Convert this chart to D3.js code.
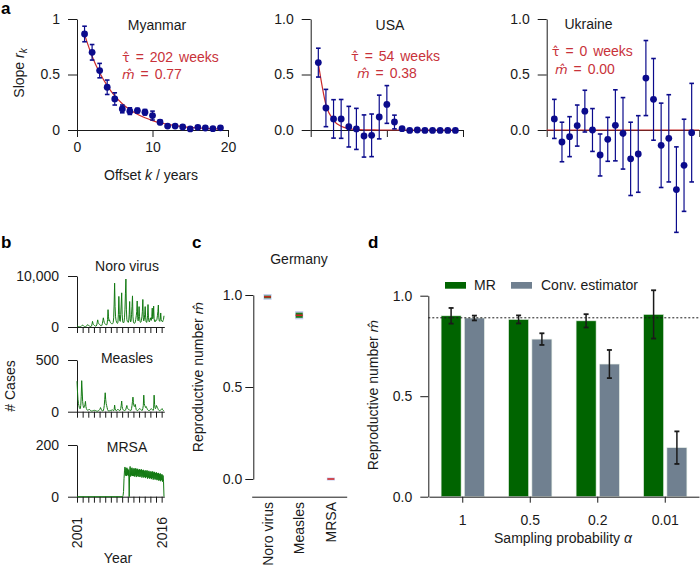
<!DOCTYPE html>
<html><head><meta charset="utf-8">
<script src="https://cdn.jsdelivr.net/npm/d3@7"></script>
<style>
body{margin:0;background:#fff;}
svg{font-family:"Liberation Sans",Arial,Helvetica,sans-serif;}
</style></head>
<body><svg id="chart" width="700" height="569"></svg>
<script>
// ---------------- DATA ----------------
// Panel a
const panelAOffsets = [1,2,3,4,5,6,7,8,9,10,11,12,13,14,15,16,17,18,19];
const ukraineFitOffsets = [0,1,2,3,4,5,6,7,8,9,10,11,12,13,14,15,16,17,18,19,20];
const axisAOffsetTicks = [0,10,20];
const axisASlopeTicks = [0,0.5,1];

const myanmarSlope = [0.865,0.70,0.535,0.385,0.28,0.19,0.17,0.175,0.16,0.13,0.07,0.035,0.035,0.027,0.01,0.024,0.018,0.012,0.02];
const myanmarErr   = [0.07,0.07,0.065,0.065,0.055,0.035,0.03,0.02,0.025,0.04,0.02,0.012,0.01,0.01,0.008,0.01,0.008,0.008,0.01];
const myanmarFit   = [0.86,0.665,0.515,0.40,0.307,0.237,0.183,0.142,0.11,0.085,0.065,0.05,0.039,0.03,0.023,0.018,0.014,0.011,0.008];

const usaSlope = [0.607,0.198,0.10,0.10,0.03,0.01,-0.054,-0.048,0.117,0.23,0.072,0.012,-0.004,0,-0.004,-0.004,-0.004,-0.004,-0.004];
const usaErr   = [0.13,0.168,0.173,0.175,0.183,0.185,0.19,0.192,0.197,0.17,0.062,0.008,0,0,0,0,0,0,0];
const usaFit   = [0.60,0.228,0.087,0.033,0.0125,0.005,0.002,0.001,0,0,0,0,0,0,0,0,0,0,0];

const ukraineSlope = [0.10,-0.108,-0.06,0.04,0.17,0.0,-0.225,-0.084,0.042,-0.03,-0.26,-0.216,0.468,0.276,-0.138,-0.075,-0.537,-0.318,-0.024];
const ukraineErr   = [0.176,0.178,0.18,0.185,0.188,0.193,0.189,0.198,0.32,0.322,0.33,0.345,0.338,0.368,0.38,0.393,0.385,0.415,0.444];
const ukraineFit   = [0,0,0,0,0,0,0,0,0,0,0,0,0,0,0,0,0,0,0,0,0];

const countryNames = ["Myanmar","USA","Ukraine"];
const tauWeeks = ["202","54","0"];
const mHatValues = ["0.77","0.38","0.00"];

// Panel b (weekly case counts, sampled monthly)
const caseYearTicks = [2001,2002,2003,2004,2005,2006,2007,2008,2009,2010,2011,2012,2013,2014,2015,2016];
const caseYearLabels = [2001,2016];
const noroStart = 2001;
const noroCases = [
 250,200,150,100,80,60,50,60,80,150,250,300,
 350,300,200,120,80,60,60,80,150,300,450,400,
 350,300,200,150,100,80,100,200,600,1100,700,500,
 400,300,250,200,150,200,400,900,1400,900,700,600,
 500,400,300,250,250,350,700,1200,1800,1300,900,700,
 600,500,400,400,600,1500,3400,2000,1200,1400,1100,900,
 800,700,600,600,700,900,1800,4500,8600,4000,2000,1300,
 1000,800,700,900,2500,6000,2500,1200,1100,2500,4500,6700,
 2500,1200,900,800,1000,1800,3500,6500,9400,3500,1500,1100,
 1000,900,1200,2500,5000,1600,1000,1200,2500,4000,6100,2000,
 1000,800,700,800,1000,1500,2200,3000,5100,1800,1200,2000,
 4000,2000,1100,900,1000,1300,2000,3000,5400,1800,1200,1500,
 2500,4000,1800,1000,900,1200,2200,4400,1800,1100,1000,1300,
 1800,1400,1300,2000,3700,1600,2000,4100,1600,1100,1000,1200,
 1400,1300,1500,2200,3000,4300,1800,1200,1100,1500,2750,1400,
 1200,1100,1000,1300,1500,2200];
const measlesStart = 2001;
const measlesCases = [
 295,200,120,80,60,40,30,30,60,150,300,200,
 100,60,40,40,50,70,100,50,30,20,15,12,
 15,20,25,20,15,10,8,6,5,8,10,12,
 10,12,15,12,10,8,5,5,5,8,10,15,
 20,25,40,30,20,10,8,8,10,30,60,120,
 183,120,80,60,40,20,10,8,6,8,10,12,
 10,12,15,20,15,10,10,20,64,30,15,10,
 10,15,20,25,20,15,10,10,15,30,60,103,
 50,30,20,15,15,10,10,15,25,45,60,40,
 30,25,20,20,15,10,10,15,30,60,100,141,
 90,60,50,60,70,40,20,15,10,10,15,20,
 25,30,30,25,20,15,10,15,30,60,160,80,
 60,50,40,50,40,30,20,15,12,10,12,15,
 20,25,30,25,20,15,12,30,160,70,40,30,
 40,60,50,40,30,20,15,10,10,12,15,20,
 25,30,20,15,10,8];
const mrsaStart = 2009;
const mrsaCases = [
 0,0,5,20,70,100,115,82,110,80,112,84,
 108,80,104,0,100,117,78,110,82,112,80,106,
 80,110,78,108,82,110,76,106,80,108,78,104,
 78,106,76,104,80,106,74,102,78,104,74,100,
 76,102,72,100,76,102,70,98,74,100,70,96,
 72,98,68,96,72,98,66,94,70,96,66,92,
 68,94,64,90,66,92,62,88,64,90,60,86,
 64,86,58,82,60,0];
const caseTitles = ["Noro virus","Measles","MRSA"];
const caseMax = [10000,500,200];

// Panel c
const germanyDiseases = ["Noro virus","Measles","MRSA"];
const germanyMedian = [0.99,0.89,0.0];
const germanyLow    = [0.982,0.876,0.0];
const germanyHigh   = [0.997,0.904,0.0];
const reproTicks = [0,0.5,1];

// Panel d
const samplingLabels = ["1","0.5","0.2","0.01"];
const estimatorNames = ["MR","Conv. estimator"];
const mrValues   = [0.90,0.882,0.875,0.907];
const mrErr      = [0.039,0.02,0.033,0.12];
const convValues = [0.889,0.784,0.66,0.244];
const convErr    = [0.012,0.029,0.07,0.081];
const trueM = 0.89;

// ---------------- DRAW ----------------
const svg = d3.select("#chart");
const INK = "#1a1a1a";
const NAVY = "#0b0b8c";
const RED = "#cc2b2b";
const REDTXT = "#c8323a";
const GREEN = "#006400";
const SLATE = "#708090";

function styleAxis(g){
  g.attr("font-family", null).attr("font-size", 14);
  g.selectAll(".domain, .tick line").attr("stroke", INK).attr("stroke-width", 1);
  g.selectAll(".tick text").attr("fill", INK);
  return g;
}
function label(txt, x, y, opts={}){
  const t = svg.append("text").attr("x", x).attr("y", y).attr("font-size", opts.size||14)
    .attr("fill", opts.fill||INK).attr("text-anchor", opts.anchor||"start");
  if (opts.weight) t.attr("font-weight", opts.weight);
  t.text(txt);
  return t;
}
function hatTspan(t, base, italic, size){
  const s = t.append("tspan").attr("font-family","DejaVu Sans").attr("font-size",size||13).text(base + "\u0302");
  if (italic) s.attr("font-style","italic");
  return s;
}

// Panel labels
label("a", 1, 14, {size:17, weight:"bold", fill:"#000"});
label("b", 1, 248, {size:17, weight:"bold", fill:"#000"});
label("c", 192, 248, {size:17, weight:"bold", fill:"#000"});
label("d", 368, 248, {size:17, weight:"bold", fill:"#000"});

// ---- Panel a ----
const yA = d3.scaleLinear([0,1],[130,19]);
const panelA = [
  {slope:myanmarSlope, err:myanmarErr, fitK:panelAOffsets, fit:myanmarFit, x0:77, x1:228,
   fmt:d=>d===0?"0":d===1?"1":"0.5", xLabels:true, title:[157,30], tau:[122,61.5], m:[122,79]},
  {slope:usaSlope, err:usaErr, fitK:panelAOffsets, fit:usaFit, x0:310.7, x1:463,
   fmt:d3.format(".1f"), xLabels:false, title:[390,30], tau:[351,60.5], m:[357,78.3]},
  {slope:ukraineSlope, err:ukraineErr, fitK:ukraineFitOffsets, fit:ukraineFit, x0:546.7, x1:699.3,
   fmt:d3.format(".1f"), xLabels:false, title:[588.5,29], tau:[551.7,56], m:[555,74]}
];
panelA.forEach((p,i)=>{
  const x = d3.scaleLinear([0,20],[p.x0,p.x1]);
  styleAxis(svg.append("g").attr("transform",`translate(${p.x0},0)`)
    .call(d3.axisLeft(yA).tickValues(axisASlopeTicks).tickFormat(p.fmt).tickSize(9).tickPadding(8).tickSizeOuter(0)));
  styleAxis(svg.append("g").attr("transform",`translate(0,${yA(0)})`)
    .call(d3.axisBottom(x).tickValues(axisAOffsetTicks).tickFormat(p.xLabels?d3.format("d"):"").tickSize(7).tickPadding(5).tickSizeOuter(0)));
  svg.append("path").datum(p.fitK.map((k,j)=>[k,p.fit[j]]))
    .attr("d", d3.line().x(d=>x(d[0])).y(d=>yA(d[1])).curve(d3.curveMonotoneX))
    .attr("fill","none").attr("stroke",RED).attr("stroke-width",1.2);
  const g = svg.append("g");
  panelAOffsets.forEach((k,j)=>{
    const e = p.err[j], v = p.slope[j];
    if (e > 0.004){
      g.append("line").attr("x1",x(k)).attr("x2",x(k)).attr("y1",yA(v-e)).attr("y2",yA(v+e))
        .attr("stroke",NAVY).attr("stroke-width",1.2);
      [v-e, v+e].forEach(c=>g.append("line").attr("x1",x(k)-2.3).attr("x2",x(k)+2.3)
        .attr("y1",yA(c)).attr("y2",yA(c)).attr("stroke",NAVY).attr("stroke-width",1.6));
    }
  });
  g.selectAll("circle").data(p.slope).join("circle")
    .attr("cx",(d,j)=>x(panelAOffsets[j])).attr("cy",d=>yA(d)).attr("r",3.4).attr("fill",NAVY);
  label(countryNames[i], p.title[0], p.title[1], {anchor:"middle"});
  const tt = svg.append("text").attr("x",p.tau[0]).attr("y",p.tau[1]).attr("font-size",14)
    .attr("word-spacing",2).attr("fill",REDTXT);
  hatTspan(tt, "\u03C4", false, 13);
  tt.append("tspan").text(" = " + tauWeeks[i] + " weeks");
  const mt = svg.append("text").attr("x",p.m[0]).attr("y",p.m[1]).attr("font-size",14)
    .attr("word-spacing",2).attr("fill",REDTXT);
  hatTspan(mt, "m", true, 13);
  mt.append("tspan").text(" = " + mHatValues[i]);
});
{
  const t = svg.append("text").attr("transform","translate(23.5,73) rotate(-90)").attr("text-anchor","middle")
    .attr("font-size",14).attr("fill",INK);
  t.append("tspan").text("Slope ");
  t.append("tspan").attr("font-style","italic").text("r");
  t.append("tspan").attr("font-style","italic").attr("font-size",10).attr("dy",3).text("k");
  const t2 = svg.append("text").attr("x",151).attr("y",180).attr("text-anchor","middle").attr("font-size",14).attr("fill",INK);
  t2.append("tspan").text("Offset ");
  t2.append("tspan").attr("font-style","italic").text("k");
  t2.append("tspan").text(" / years");
}

// ---- Panel b ----
const xB = d3.scaleLinear([2001, 2016.47],[77,164.3]);
const caseSeries = [
  {values:noroCases, start:noroStart, base:327, top:276, tb:271},
  {values:measlesCases, start:measlesStart, base:411.7, top:360, tb:363.3},
  {values:mrsaCases, start:mrsaStart, base:496.7, top:445, tb:451.7}
];
caseSeries.forEach((s,i)=>{
  const y = d3.scaleLinear([0, caseMax[i]],[s.base, s.top]);
  styleAxis(svg.append("g").attr("transform","translate(77,0)")
    .call(d3.axisLeft(y).tickValues([0,caseMax[i]]).tickFormat(d3.format(",")).tickSize(9).tickPadding(9).tickSizeOuter(0)));
  styleAxis(svg.append("g").attr("transform",`translate(0,${s.base})`)
    .call(d3.axisBottom(xB).tickValues(caseYearTicks).tickFormat("").tickSize(6).tickSizeOuter(0)));
  const pts = s.values.map((v,j)=>[s.start + j/12, v]);
  if (s.start > 2001) pts.unshift([2001,0]);
  svg.append("path").datum(pts)
    .attr("d", d3.line().x(d=>xB(d[0])).y(d=>y(d[1])))
    .attr("fill","none").attr("stroke","#137a13").attr("stroke-width",1);
  label(caseTitles[i], 127, s.tb, {anchor:"middle"});
});
caseYearLabels.forEach(yr=>{
  svg.append("text").attr("transform",`translate(${xB(yr)+5},517) rotate(-90)`)
    .attr("text-anchor","end").attr("font-size",14).attr("fill",INK).text(yr);
});
label("Year", 118, 563, {anchor:"middle"});
svg.append("text").attr("transform","translate(15,386) rotate(-90)").attr("text-anchor","middle")
  .attr("font-size",14).attr("fill",INK).text("# Cases");

// ---- Panel c ----
const yC = d3.scaleLinear([0,1],[479,295]);
const xC = d3.scaleBand(germanyDiseases,[251.7,346.7]);
styleAxis(svg.append("g").attr("transform","translate(253.3,0)")
  .call(d3.axisLeft(yC).tickValues(reproTicks).tickFormat(d3.format(".1f")).tickSize(8).tickPadding(3).tickSizeOuter(0)));
styleAxis(svg.append("g").attr("transform","translate(0,496.7)")
  .call(d3.axisBottom(xC).tickSize(0).tickFormat("").tickSizeOuter(0)));
germanyDiseases.forEach((d,i)=>{
  const cx = xC(d) + xC.bandwidth()/2;
  const yTop = yC(germanyHigh[i]), yBot = yC(germanyLow[i]);
  svg.append("rect").attr("x",cx-4).attr("y",yTop-1.5).attr("width",8).attr("height",yBot-yTop+3)
    .attr("fill","#b7bde8").attr("opacity",0.8);
  if (yBot - yTop > 0.5)
    svg.append("rect").attr("x",cx-3.5).attr("y",yTop).attr("width",7).attr("height",yBot-yTop)
      .attr("fill","#1f7a1f");
  svg.append("line").attr("x1",cx-3.5).attr("x2",cx+3.5).attr("y1",yC(germanyMedian[i])).attr("y2",yC(germanyMedian[i]))
    .attr("stroke","#d02020").attr("stroke-width",1.5);
  svg.append("text").attr("transform",`translate(${cx+5},502) rotate(-90)`)
    .attr("text-anchor","end").attr("font-size",14).attr("fill",INK).text(d);
});
label("Germany", 299, 264, {anchor:"middle"});
{
  const t = svg.append("text").attr("transform","translate(203,377) rotate(-90)").attr("text-anchor","middle")
    .attr("font-size",14).attr("fill",INK);
  t.append("tspan").text("Reproductive number ");
  hatTspan(t, "m", true);
}

// ---- Panel d ----
const yD = d3.scaleLinear([0,1],[496.7,295.7]);
const xD = d3.scaleBand(samplingLabels,[429,699]).padding(0);
const xD1 = d3.scaleBand(estimatorNames,[-21.65,21.65]).paddingInner(0.1416);
styleAxis(svg.append("g").attr("transform","translate(428.3,0)")
  .call(d3.axisLeft(yD).tickValues(reproTicks).tickFormat(d3.format(".1f")).tickSize(8).tickPadding(8).tickSizeOuter(0)));
const barData = [];
samplingLabels.forEach((s,i)=>{
  barData.push({g:s, k:estimatorNames[0], v:mrValues[i], e:mrErr[i], c:GREEN});
  barData.push({g:s, k:estimatorNames[1], v:convValues[i], e:convErr[i], c:SLATE});
});
const bars = svg.append("g");
barData.forEach(d=>{
  const x0 = xD(d.g) + xD.bandwidth()/2 + xD1(d.k);
  bars.append("rect").attr("x",x0).attr("y",yD(d.v)).attr("width",xD1.bandwidth()).attr("height",yD(0)-yD(d.v))
    .attr("fill",d.c).attr("stroke","#e6efe6").attr("stroke-width",0.6);
});
styleAxis(svg.append("g").attr("transform","translate(0,496.7)")
  .call(d3.axisBottom(xD).tickSize(6).tickPadding(12).tickSizeOuter(0)));
svg.append("line").attr("x1",428.3).attr("x2",700).attr("y1",yD(trueM)).attr("y2",yD(trueM))
  .attr("stroke",INK).attr("stroke-width",1).attr("stroke-dasharray","2,2");
barData.forEach(d=>{
  const cx = xD(d.g) + xD.bandwidth()/2 + xD1(d.k) + xD1.bandwidth()/2;
  svg.append("line").attr("x1",cx).attr("x2",cx).attr("y1",yD(d.v-d.e)).attr("y2",yD(d.v+d.e))
    .attr("stroke",INK).attr("stroke-width",1.5);
  [d.v-d.e, d.v+d.e].forEach(c=>svg.append("line").attr("x1",cx-2.5).attr("x2",cx+2.5)
    .attr("y1",yD(c)).attr("y2",yD(c)).attr("stroke",INK).attr("stroke-width",1.8));
});
[[445,GREEN,474],[511,SLATE,541]].forEach((l,i)=>{
  svg.append("rect").attr("x",l[0]).attr("y",282).attr("width",21).attr("height",6.7).attr("fill",l[1]);
  label(estimatorNames[i], l[2], 290);
});
{
  const t = svg.append("text").attr("x",563).attr("y",543).attr("text-anchor","middle").attr("font-size",14).attr("fill",INK);
  t.append("tspan").text("Sampling probability ");
  t.append("tspan").attr("font-style","italic").text("\u03B1");
  const t2 = svg.append("text").attr("transform","translate(378,395) rotate(-90)").attr("text-anchor","middle")
    .attr("font-size",14).attr("fill",INK);
  t2.append("tspan").text("Reproductive number ");
  hatTspan(t2, "m", true);
}
</script>
</body></html>
